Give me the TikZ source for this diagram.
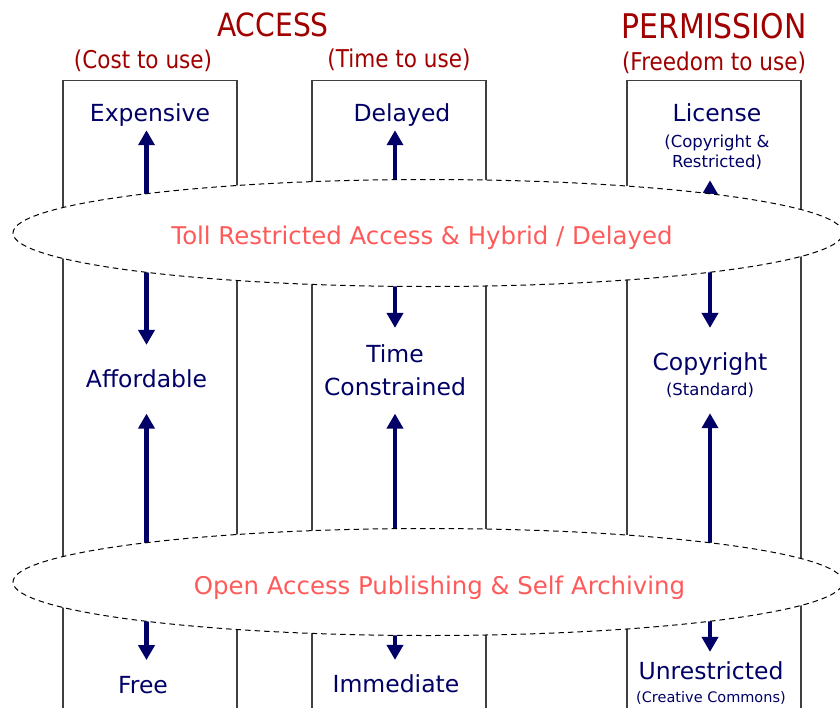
\documentclass[tikz,border=0pt]{standalone}
\usepackage{fontspec}
\setmainfont{DejaVu Sans}
\newfontfamily\headfamily{DejaVu Sans}[FakeStretch=0.88]
\usetikzlibrary{shapes.geometric, arrows.meta}
\definecolor{headred}{RGB}{160,0,0}
\definecolor{navy}{RGB}{0,0,102}
\definecolor{salmon}{RGB}{255,90,90}
\definecolor{colgray}{RGB}{64,64,64}
\newcommand\subfont{\fontsize{16.5}{20}\selectfont}
\tikzstyle{dblarrow} = [line width=4.5pt, draw=navy, {Triangle[width=16pt,length=15pt]}-{Triangle[width=16pt,length=15pt]}]
\tikzstyle{heading} = [anchor=base, inner sep=0pt, text=headred, font=\headfamily\fontsize{32}{38}\selectfont]
\tikzstyle{subheading} = [anchor=base, inner sep=0pt, text=headred, font=\headfamily\fontsize{24.5}{30}\selectfont]
\tikzstyle{colbox} = [rectangle, draw=colgray, line width=1.3pt, minimum width=174pt, minimum height=700pt, anchor=north, inner sep=0pt]
\tikzstyle{levtext} = [anchor=north, inner sep=0pt, align=center, text=navy, font=\fontsize{23.5}{33}\selectfont]
\tikzstyle{band} = [ellipse, draw=black, line width=1pt, dash pattern=on 5.5pt off 4pt, fill=white, minimum width=830pt, minimum height=107pt, inner sep=0pt]
\tikzstyle{bandtext} = [anchor=base, inner sep=0pt, text=salmon, font=\fontsize{24.4}{29}\selectfont]

\begin{document}
\begin{tikzpicture}[x=1pt, y=-1pt]
\clip (0,0) rectangle (840,707);
% Placement of headings
\node (access) [heading] at (273,36) {ACCESS};
\node (permission) [heading, font=\headfamily\fontsize{34}{40}\selectfont] at (714,38) {PERMISSION};
\node (costSub) [subheading] at (143,68) {(Cost to use)};
\node (timeSub) [subheading] at (399,67) {(Time to use)};
\node (freeSub) [subheading] at (714,70) {(Freedom to use)};

% Placement of columns
\node (costCol) [colbox] at (150,80) {};
\node (timeCol) [colbox] at (399,80) {};
\node (freeCol) [colbox] at (714,80) {};

% Placement of levels
\node (expensive) [levtext] at (150,103) {Expensive};
\node (delayed) [levtext] at (402,103) {Delayed};
\node (license) [levtext] at (717,103) {License\\[-7pt]\subfont (Copyright \&\\[-13pt]\subfont Restricted)};
\node (afford) [levtext] at (146.5,369) {Affordable};
\node (timec) [levtext] at (395,344) {Time\\Constrained};
\node (copyright) [levtext] at (710,352) {Copyright\\[-8pt]\subfont (Standard)};
\node (free) [levtext] at (143,676) {Free};
\node (immediate) [levtext] at (396,674) {Immediate};
\node (unrestricted) [levtext] at (711,661) {Unrestricted\\[-10pt]\fontsize{14.5}{18}\selectfont (Creative Commons)};

% Placement of edges
\draw [dblarrow, shorten <=4.1pt, shorten >=24.1pt] (afford.north |- expensive.south) -- (afford.north);
\draw [dblarrow, shorten <=26pt, shorten >=15.9pt] (afford.south) -- (afford.south |- free.north);
\draw [dblarrow, shorten <=4.1pt, shorten >=16.1pt] (timec.north |- delayed.south) -- (timec.north);
\draw [dblarrow, shorten <=18pt, shorten >=14.1pt] (timec.south) -- (timec.south |- immediate.north);
\draw [dblarrow, shorten <=10.8pt, shorten >=24.1pt] (copyright.north |- license.south) -- (copyright.north);
\draw [dblarrow, shorten <=15.8pt, shorten >=9.1pt] (copyright.south) -- (copyright.south |- unrestricted.north);

% Bands over the columns
\node (tollEll) [band] at (428,233) {};
\node (oaEll) [band] at (428,582) {};
\node (tollText) [bandtext] at (422,244) {Toll Restricted Access \& Hybrid / Delayed};
\node (oaText) [bandtext] at (439.5,594) {Open Access Publishing \& Self Archiving};

\end{tikzpicture}
\end{document}
